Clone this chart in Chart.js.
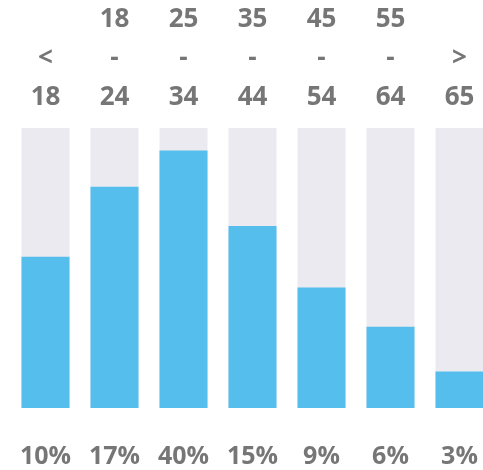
<!DOCTYPE html>
<html>
<head>
<meta charset="utf-8">
<script src="https://cdn.jsdelivr.net/npm/chart.js@4/dist/chart.umd.min.js"></script>
<style>
  html, body { margin: 0; padding: 0; background: #fff; overflow: hidden; }
  canvas { display: block; }
</style>
</head>
<body>
<canvas id="ageChart" width="505" height="470"></canvas>
<script>
// age groups (top labels), share labels (bottom) and bar heights
var ageGroups = ['< 18', '18 - 24', '25 - 34', '35 - 44', '45 - 54', '55 - 64', '> 65'];
var shareLabels = ['10%', '17%', '40%', '15%', '9%', '6%', '3%'];
var barValues = [54, 79, 92, 65, 43, 29, 13];
var trackValues = [100, 100, 100, 100, 100, 100, 100];

var textGrey = '#767676';

var ctx = document.getElementById('ageChart');
var myChart = new Chart(ctx, {
  type: 'bar',
  data: {
    labels: ageGroups.map(function(s) { return s.split(' '); }),
    datasets: [
      {
        label: 'share',
        data: barValues,
        backgroundColor: '#55BEEC',
        grouped: false,
        barPercentage: 0.696,
        categoryPercentage: 1
      },
      {
        label: 'track',
        data: trackValues,
        backgroundColor: '#EBEAF1',
        grouped: false,
        barPercentage: 0.696,
        categoryPercentage: 1
      }
    ]
  },
  options: {
    responsive: false,
    animation: false,
    events: [],
    layout: { padding: { left: 11, right: 11, top: 0, bottom: 0 } },
    plugins: { legend: { display: false }, tooltip: { enabled: false } },
    scales: {
      x: {
        position: 'top',
        grid: { display: false, drawTicks: false },
        border: { display: false },
        ticks: {
          color: textGrey,
          padding: 11,
          maxRotation: 0,
          autoSkip: false,
          font: { family: 'Open Sans', weight: 'bold', size: 26, lineHeight: '39px' }
        },
        afterFit: function(scale) { scale.height = 128; }
      },
      x2: {
        type: 'category',
        labels: shareLabels,
        position: 'bottom',
        offset: true,
        grid: { display: false, drawTicks: false },
        border: { display: false },
        ticks: {
          color: textGrey,
          padding: 0,
          maxRotation: 0,
          autoSkip: false,
          // tall line box pushes the label down to the bottom row
          font: { family: 'Open Sans', weight: 'bold', size: 25, lineHeight: '97px' }
        },
        afterFit: function(scale) { scale.height = 62; }
      },
      y: {
        display: false,
        min: 0,
        max: 100
      }
    }
  }
});
</script>
</body>
</html>
